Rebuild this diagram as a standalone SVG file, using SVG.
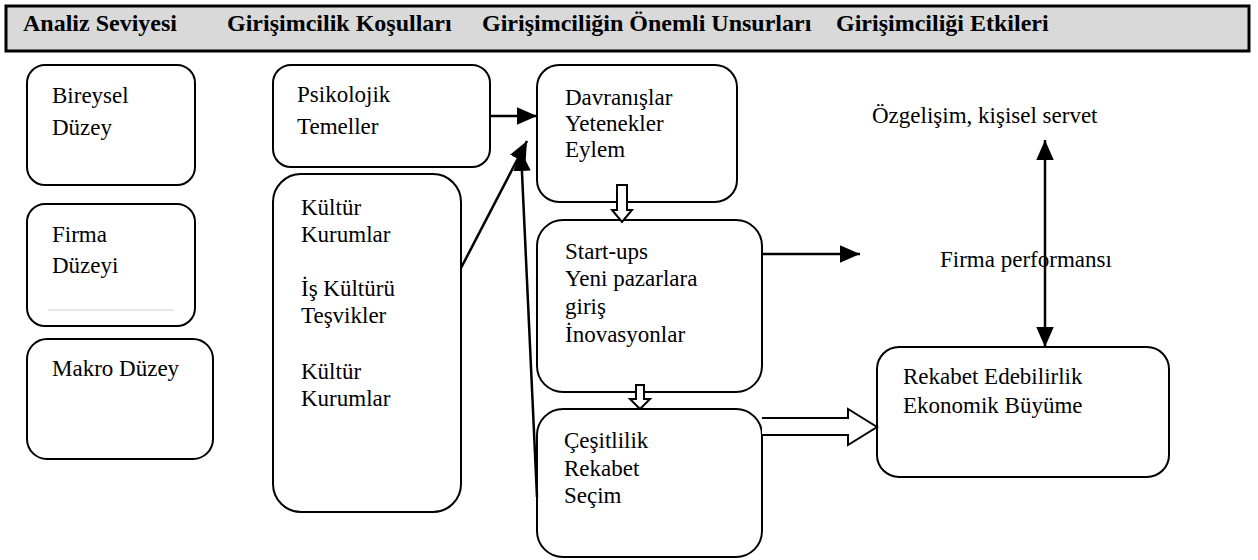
<svg xmlns="http://www.w3.org/2000/svg" width="1258" height="560" viewBox="0 0 1258 560">
<style>
.box{fill:#fff;stroke:#000;stroke-width:2}
.t{font-family:"Liberation Serif","Times New Roman",serif;font-size:23px;fill:#000}
.h{font-family:"Liberation Serif","Times New Roman",serif;font-size:24px;font-weight:bold;fill:#000}
.ln{stroke:#000;stroke-width:2.5;fill:none}
.hollow{fill:#fff;stroke:#000;stroke-width:2;stroke-linejoin:miter}
</style>
<defs>
<marker id="ah" markerWidth="8" markerHeight="7" refX="8" refY="3.5" orient="auto" markerUnits="strokeWidth">
<path d="M0,0 L8,3.5 L0,7 Z" fill="#000"/>
</marker>
<marker id="ahs" markerWidth="8" markerHeight="7" refX="0" refY="3.5" orient="auto" markerUnits="strokeWidth">
<path d="M8,0 L0,3.5 L8,7 Z" fill="#000"/>
</marker>
</defs>
<rect width="1258" height="560" fill="#fff"/>
<g id="header">
<rect x="6" y="6" width="1243" height="45" fill="#d9d9d9" stroke="#000" stroke-width="3"/>
<text class="h" x="23" y="31">Analiz Seviyesi</text>
<text class="h" x="227" y="31">Girişimcilik Koşulları</text>
<text class="h" x="482" y="31">Girişimciliğin Önemli Unsurları</text>
<text class="h" x="836" y="31">Girişimciliği Etkileri</text>
</g>
<g id="bireysel">
<rect class="box" x="27" y="65" width="168" height="120" rx="18"/>
<text class="t" x="52" y="103">Bireysel</text>
<text class="t" x="52" y="135">Düzey</text>
</g>
<g id="firma">
<rect class="box" x="27" y="204" width="168" height="122" rx="18"/>
<text class="t" x="52" y="242">Firma</text>
<text class="t" x="52" y="273">Düzeyi</text>
<line x1="48" y1="310" x2="174" y2="310" stroke="#d0d0d0" stroke-width="1"/>
</g>
<g id="makro">
<rect class="box" x="27" y="339" width="186" height="120" rx="20"/>
<text class="t" x="52" y="376">Makro Düzey</text>
</g>
<g id="psikolojik">
<rect class="box" x="273" y="65" width="217" height="102" rx="18"/>
<text class="t" x="297" y="102">Psikolojik</text>
<text class="t" x="297" y="134">Temeller</text>
</g>
<g id="kultur">
<rect class="box" x="273" y="174" width="188" height="338" rx="28"/>
<text class="t" x="301" y="215">Kültür</text>
<text class="t" x="301" y="242">Kurumlar</text>
<text class="t" x="301" y="296">İş Kültürü</text>
<text class="t" x="301" y="323">Teşvikler</text>
<text class="t" x="301" y="379">Kültür</text>
<text class="t" x="301" y="406">Kurumlar</text>
</g>
<g id="davranislar">
<rect class="box" x="537" y="65" width="200" height="137" rx="22"/>
<text class="t" x="565" y="105">Davranışlar</text>
<text class="t" x="565" y="131">Yetenekler</text>
<text class="t" x="565" y="157">Eylem</text>
</g>
<g id="startups">
<rect class="box" x="537" y="220" width="225" height="172" rx="26"/>
<text class="t" x="565" y="259">Start-ups</text>
<text class="t" x="565" y="286">Yeni pazarlara</text>
<text class="t" x="565" y="314">giriş</text>
<text class="t" x="565" y="342">İnovasyonlar</text>
</g>
<g id="cesitlilik">
<rect class="box" x="537" y="409" width="225" height="148" rx="26"/>
<text class="t" x="564" y="448">Çeşitlilik</text>
<text class="t" x="564" y="476">Rekabet</text>
<text class="t" x="564" y="503">Seçim</text>
</g>
<g id="ozgelisim">
<text class="t" x="872" y="123">Özgelişim, kişisel servet</text>
</g>
<g id="firmaperf">
<text class="t" x="940" y="267">Firma performansı</text>
</g>
<g id="rekabet">
<rect class="box" x="877" y="347" width="292" height="130" rx="22"/>
<text class="t" x="903" y="384">Rekabet Edebilirlik</text>
<text class="t" x="903" y="413">Ekonomik Büyüme</text>
</g>
<g id="connectors">
<line class="ln" x1="490" y1="116" x2="537" y2="116" marker-end="url(#ah)"/>
<line class="ln" x1="461" y1="268" x2="527" y2="141" marker-end="url(#ah)"/>
<line class="ln" x1="537" y1="497" x2="521" y2="151" marker-end="url(#ah)"/>
<line class="ln" x1="762" y1="254" x2="860" y2="254" marker-end="url(#ah)"/>
<line class="ln" x1="1045" y1="140" x2="1045" y2="347" marker-start="url(#ahs)" marker-end="url(#ah)"/>
<path class="hollow" d="M617,185 L627,185 L627,210 L632,210 L622,222 L612,210 L617,210 Z"/>
<path class="hollow" d="M636,385 L644,385 L644,399 L650,399 L640,409 L630,399 L636,399 Z"/>
<path class="hollow" d="M762,418 L848,418 L848,409 L877,427 L848,445 L848,435 L762,435"/>
</g>
</svg>
